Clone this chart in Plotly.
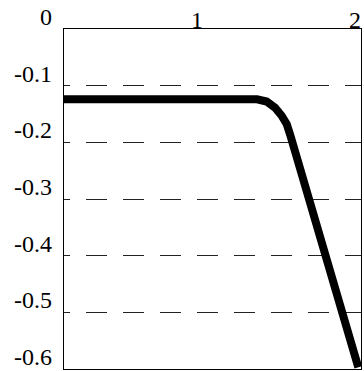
import plotly.graph_objects as go

# data
x_vals = [0.158, 1.380, 1.441, 1.494, 1.536, 1.568, 1.589, 2.021]
y_vals = [-0.124, -0.124, -0.128, -0.139, -0.153, -0.168, -0.186, -0.597]
y_ticks = [0, -0.1, -0.2, -0.3, -0.4, -0.5, -0.6]
y_tick_labels = ["0", "-0.1", "-0.2", "-0.3", "-0.4", "-0.5", "-0.6"]
x_ticks = [1, 2]
x_tick_labels = ["1", "2"]

FONT = "Liberation Serif"

fig = go.Figure()
fig.add_trace(go.Scatter(
    x=x_vals, y=y_vals, mode="lines",
    line=dict(color="black", width=8, shape="linear"),
    hoverinfo="skip", showlegend=False,
))

dash = "6px,16px," + ",".join(["21px,16px"] * 9)

annotations = []
for v, t in zip(y_ticks, y_tick_labels):
    annotations.append(dict(
        x=0, xref="paper", y=v, yref="y", text=t, showarrow=False,
        xanchor="right", yanchor="bottom", xshift=-10, yshift=-3,
        font=dict(family=FONT, size=24, color="black"),
    ))
for v, t in zip(x_ticks, x_tick_labels):
    annotations.append(dict(
        x=v, xref="x", y=1, yref="paper", text=t, showarrow=False,
        xanchor="center", yanchor="bottom", yshift=-6,
        font=dict(family=FONT, size=24, color="black"),
    ))

fig.update_layout(
    width=364, height=371,
    margin=dict(l=64, r=3, t=29, b=2),
    paper_bgcolor="white", plot_bgcolor="white",
    font=dict(family=FONT, size=24, color="black"),
    xaxis=dict(range=[0.158, 2.038], showgrid=False, zeroline=False,
               showticklabels=False, ticks="", showline=True, linecolor="black",
               linewidth=1, mirror=True),
    yaxis=dict(range=[-0.6, 0], tickvals=y_ticks[1:-1], showgrid=True,
               gridcolor="#222222", gridwidth=1, griddash=dash,
               zeroline=False, showticklabels=False, ticks="",
               showline=True, linecolor="black", linewidth=1, mirror=True),
    annotations=annotations,
    showlegend=False,
)

fig.write_html("out.html", config={"displayModeBar": False},
               post_script="document.body.style.margin='0';")
